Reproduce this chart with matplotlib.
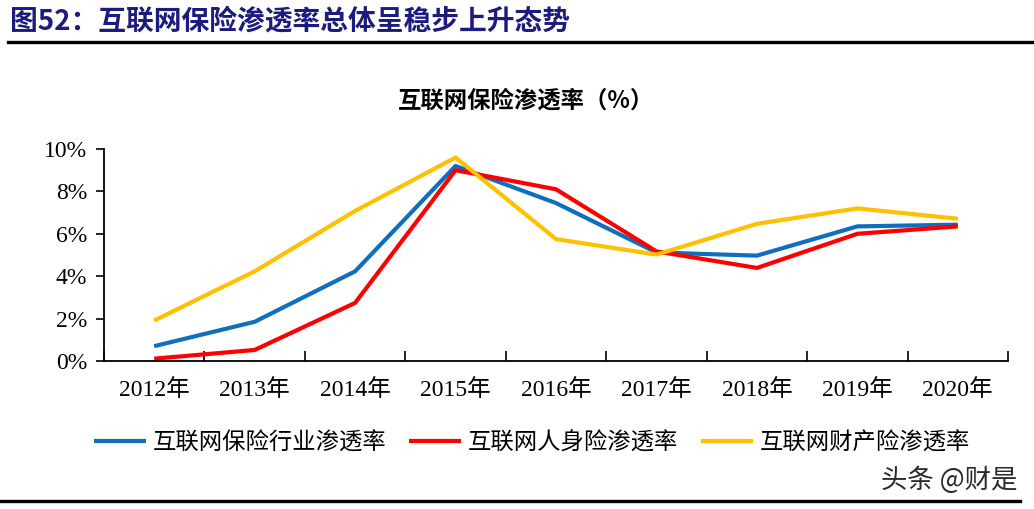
import matplotlib
matplotlib.use("Agg")
import matplotlib.pyplot as plt
from matplotlib.lines import Line2D
from matplotlib.ticker import FixedLocator, FuncFormatter

years = ["2012年", "2013年", "2014年", "2015年", "2016年", "2017年", "2018年", "2019年", "2020年"]
industry = [0.70, 1.85, 4.23, 9.20, 7.45, 5.12, 4.97, 6.35, 6.43]
life = [0.11, 0.52, 2.74, 9.00, 8.10, 5.17, 4.39, 6.00, 6.35]
property_ = [1.91, 4.23, 7.08, 9.60, 5.75, 5.02, 6.47, 7.20, 6.71]
series_names = ["互联网保险行业渗透率", "互联网人身险渗透率", "互联网财产险渗透率"]
y_ticks = [0, 2, 4, 6, 8, 10]

colors = ["#0F6FBF", "#FF0000", "#FFC000"]
CJK = ["Noto Sans CJK SC", "DejaVu Sans"]
SERIF = ["Liberation Serif", "Noto Sans CJK SC"]

W, H = 1034, 509
fig = plt.figure(figsize=(W / 100, H / 100), dpi=100)
fig.patch.set_facecolor("white")

# axes placement (pixels -> figure fraction)
x0, x1 = 104, 1008
y_top, y_bot = 149, 361
ax = fig.add_axes([x0 / W, 1 - y_bot / H, (x1 - x0) / W, (y_bot - y_top) / H])

xs = list(range(len(years)))
for vals, c, name in zip([industry, life, property_], colors, series_names):
    ax.plot(xs, vals, color=c, lw=3.0, solid_capstyle="butt", label=name)

ax.set_xlim(-0.5, len(years) - 0.5)
ax.set_ylim(0, 10)
ax.set_yticks(y_ticks)
ax.yaxis.set_major_formatter(FuncFormatter(lambda v, p: f"{v:.0f}%"))
ax.set_xticks(xs)
ax.set_xticklabels(years)
ax.xaxis.set_minor_locator(FixedLocator([i - 0.5 for i in range(len(years) + 1)]))
ax.tick_params(axis="x", which="major", length=0, pad=13)
ax.tick_params(axis="x", which="minor", direction="in", length=7, width=1.2)
ax.tick_params(axis="y", direction="out", length=6, width=1.2, pad=6)
for lab in ax.get_xticklabels():
    lab.set_family(SERIF)
    lab.set_fontsize(17)
for lab in ax.get_yticklabels():
    lab.set_family(SERIF)
    lab.set_fontsize(17)
for s in ["top", "right"]:
    ax.spines[s].set_visible(False)
for s in ["left", "bottom"]:
    ax.spines[s].set_linewidth(1.3)
    ax.spines[s].set_color("black")

# chart title
fig.text(526 / W, 1 - 100 / H, "互联网保险渗透率（%）", ha="center", va="center",
         fontsize=16.8, fontweight="bold", family=CJK, color="black")

# header
fig.text(10 / W, 1 - 22 / H, "图52：互联网保险渗透率总体呈稳步上升态势", ha="left", va="center",
         fontsize=20, fontweight="bold", family=CJK, color="#1C1C7E")
fig.add_artist(Line2D([8 / W, 1.0], [1 - 42 / H, 1 - 42 / H], color="black", lw=2.4,
                      transform=fig.transFigure))
fig.add_artist(Line2D([0.0, 1020 / W], [1 - 501 / H, 1 - 501 / H], color="black", lw=2.4,
                      transform=fig.transFigure))

# legend
handles, labels = ax.get_legend_handles_labels()
leg = fig.legend(handles, labels, loc="center", bbox_to_anchor=(532 / W, 1 - 443 / H),
                 ncol=3, frameon=False, handlelength=2.23, handletextpad=0.26,
                 columnspacing=1.0, prop={"family": CJK, "size": 16.8})

# watermark
fig.text(1017 / W, 1 - 480 / H, "头条 @财是", ha="right", va="center", fontsize=19,
         family=CJK, color="#2a2a2a")

fig.savefig("out.png", dpi=100, facecolor="white")
